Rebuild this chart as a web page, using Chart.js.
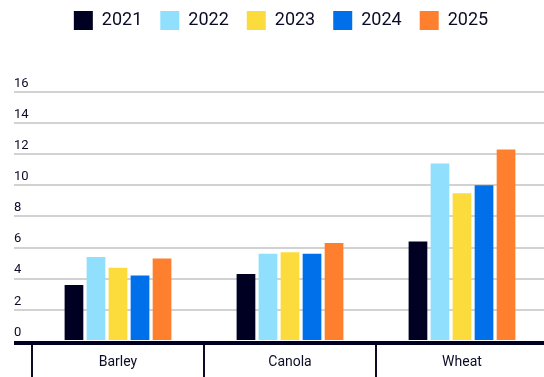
<!DOCTYPE html>
<html>
<head>
<meta charset="utf-8">
<script src="https://cdn.jsdelivr.net/npm/chart.js@4.4.0/dist/chart.umd.min.js"></script>
<style>
	html, body { margin: 0; padding: 0; overflow: hidden; background: #fff; }
	#wrap { width: 548px; height: 377px; position: relative; }
</style>
</head>
<body>
<div id="wrap"><canvas id="myChart"></canvas></div>
<script>
const categories = ["Barley", "Canola", "Wheat"];
const years = ["2021", "2022", "2023", "2024", "2025"];
const values2021 = [3.6, 4.3, 6.4];
const values2022 = [5.4, 5.6, 11.4];
const values2023 = [4.7, 5.7, 9.5];
const values2024 = [4.2, 5.6, 10.0];
const values2025 = [5.3, 6.3, 12.3];
const yTicks = [0, 2, 4, 6, 8, 10, 12, 14, 16];
const barColors = ["#000022", "#8fdffd", "#fcdb3c", "#0070ea", "#fe7f2e"];

const navy = "#0b0b26";
const yMin = -0.13; // small room so the thick axis line sits under the bars

// push the plot area down below the legend
const legendMargin = {
	id: "legendMargin",
	beforeInit(chart) {
		const fitValue = chart.legend.fit;
		chart.legend.fit = function fit() {
			fitValue.bind(chart.legend)();
			this.height += 52;
		};
	},
};

const allValues = [values2021, values2022, values2023, values2024, values2025];

const ctx = document.getElementById("myChart").getContext("2d");
const myChart = new Chart(ctx, {
	type: "bar",
	data: {
		labels: categories,
		datasets: years.map((y, i) => ({
			label: y,
			data: allValues[i],
			backgroundColor: barColors[i],
			borderWidth: 0,
			categoryPercentage: 0.64,
			barPercentage: 0.85,
		})),
	},
	options: {
		responsive: true,
		maintainAspectRatio: false,
		animation: false,
		layout: { padding: { top: -7, left: 14, right: 0, bottom: 0 } },
		plugins: {
			legend: {
				position: "top",
				labels: {
					boxWidth: 19,
					boxHeight: 19,
					padding: 18,
					color: navy,
					font: { family: "Roboto", size: 18, weight: "400" },
				},
			},
			tooltip: { enabled: false },
		},
		scales: {
			x: {
				border: { display: false },
				grid: {
					offset: true,
					drawOnChartArea: false,
					drawTicks: true,
					tickLength: 34,
					color: navy,
					lineWidth: 2,
				},
				ticks: {
					padding: -23,
					color: navy,
					font: { family: "Roboto", size: 14 },
					maxRotation: 0,
				},
				afterFit: (scale) => {
					scale.height = 34;
				},
			},
			y: {
				min: yMin,
				max: 16,
				border: { display: false },
				afterBuildTicks: (scale) => {
					scale.ticks = [yMin].concat(yTicks).map((v) => ({ value: v }));
				},
				afterFit: (scale) => {
					scale.width = 18;
				},
				grid: {
					drawTicks: true,
					tickLength: 18,
					color: (c) => {
						if (c.tick.value < 0) return "#000022";
						if (c.tick.value === 0) return "rgba(0,0,0,0)";
						return "#d2d2d2";
					},
					lineWidth: (c) => (c.tick.value < 0 ? 4 : 2),
				},
				ticks: {
					align: "end",
					crossAlign: "far",
					labelOffset: -2,
					padding: 0,
					color: navy,
					font: { family: "Roboto", size: 13 },
					callback: (v) => (v < 0 ? "" : v),
				},
			},
		},
	},
	plugins: [legendMargin],
});
</script>
</body>
</html>
